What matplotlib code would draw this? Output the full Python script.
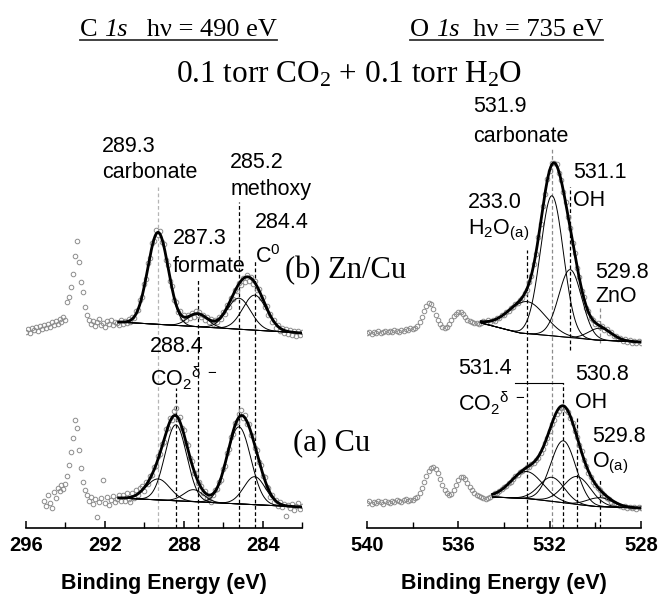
import numpy as np
import matplotlib
matplotlib.use("Agg")
import matplotlib.pyplot as plt
from matplotlib.lines import Line2D

plt.rcParams['font.family'] = ['Liberation Sans', 'DejaVu Sans']
plt.rcParams['mathtext.default'] = 'regular'

SERIF = ['Liberation Serif', 'DejaVu Serif']

# --- C 1s (hv = 490 eV), counts every 0.1 eV from the start energy downwards ---
c_b_start = 296.0   # (b) Zn/Cu
c_b_counts = [
    196, 199, 195, 200, 198, 201, 197, 202, 199, 203,
    200, 204, 201, 206, 203, 207, 204, 209, 206, 211,
    208, 226, 231, 241, 254, 272, 287, 266, 246, 236,
    221, 213, 208, 204, 207, 202, 206, 209, 203, 205,
    201, 207, 204, 208, 203, 206, 205, 203, 208, 204,
    207, 205, 209, 206, 211, 210, 217, 218, 228, 231,
    244, 249, 265, 270, 285, 287, 298, 293, 297, 286,
    284, 268, 263, 247, 242, 228, 226, 216, 217, 210,
    213, 208, 213, 210, 215, 211, 217, 213, 216, 211,
    213, 208, 211, 206, 209, 204, 208, 206, 211, 209,
    216, 214, 223, 221, 230, 229, 238, 237, 245, 243,
    250, 246, 253, 247, 251, 244, 247, 238, 239, 230,
    231, 221, 222, 213, 214, 206, 208, 200, 203, 197,
    200, 195, 199, 194, 198, 193, 197, 192, 197, 193,
    196]
c_a_start = 295.1   # (a) Cu
c_a_counts = [
    27, 22, 33, 25, 20, 36, 30, 40, 37, 43,
    39, 44, 52, 63, 76, 90, 108, 100, 78, 60,
    46, 38, 33, 27, 31, 24, 29, 11, 26, 30,
    48, 25, 31, 23, 28, 32, 26, 29, 33, 27,
    33, 27, 35, 29, 26, 35, 30, 38, 33, 40,
    42, 37, 46, 44, 52, 53, 61, 62, 72, 74,
    84, 86, 99, 100, 110, 108, 117, 120, 109, 111,
    100, 98, 85, 83, 70, 67, 55, 55, 45, 46,
    42, 35, 37, 30, 29, 26, 33, 38, 39, 46,
    48, 59, 62, 75, 79, 91, 94, 105, 106, 114,
    118, 110, 113, 104, 104, 93, 92, 80, 78, 66,
    63, 52, 51, 41, 40, 31, 33, 26, 28, 22,
    26, 21, 24, 12, 23, 20, 24, 18, 22, 25,
    19, 22]

# --- O 1s (hv = 735 eV) ---
o_b_start = 540.0
o_b_counts = [
    195, 196, 194, 196, 195, 197, 195, 196, 197, 196,
    197, 196, 198, 197, 196, 198, 197, 199, 198, 200,
    199, 200, 202, 206, 211, 217, 222, 225, 224, 219,
    213, 208, 204, 201, 200, 201, 204, 208, 212, 214,
    216, 216, 214, 211, 208, 207, 206, 205, 205, 204,
    205, 207, 206, 208, 206, 208, 207, 210, 210, 213,
    213, 216, 217, 220, 221, 224, 225, 228, 230, 235,
    238, 246, 252, 264, 274, 291, 304, 322, 334, 349,
    357, 365, 365, 364, 355, 348, 336, 326, 311, 300,
    285, 275, 260, 251, 237, 231, 220, 217, 210, 208,
    204, 205, 201, 202, 198, 199, 195, 196, 192, 192,
    189, 190, 187, 189, 186, 188, 185, 187, 185, 187,
    185]
o_a_start = 540.0
o_a_counts = [
    25, 27, 24, 26, 25, 27, 26, 24, 27, 26,
    25, 27, 26, 28, 27, 26, 28, 29, 27, 28,
    28, 30, 31, 35, 40, 46, 52, 57, 60, 61,
    59, 55, 49, 43, 38, 35, 33, 34, 38, 43,
    48, 51, 51, 49, 45, 41, 38, 35, 33, 32,
    31, 30, 29, 30, 31, 33, 35, 35, 37, 39,
    41, 42, 45, 46, 49, 52, 53, 56, 57, 59,
    61, 61, 64, 65, 68, 70, 75, 79, 85, 90,
    97, 104, 108, 114, 117, 120, 121, 118, 116, 110,
    105, 97, 91, 83, 77, 68, 62, 55, 51, 46,
    43, 40, 38, 35, 33, 30, 29, 26, 25, 24,
    23, 22, 21, 22, 20, 21, 20, 21, 19, 21,
    20]

# --- fit results: background knots, peak centres / heights / widths (sigma) ---
c_b_range = (291.3, 282.0)
c_b_bg_e, c_b_bg_h = [282.0, 291.3], [195, 206]
c_b_centres = [289.3, 287.3, 285.2, 284.4]
c_b_heights = [92, 13, 31, 35]
c_b_widths = [0.52, 0.5, 0.6, 0.6]

c_a_range = (291.3, 282.0)
c_a_bg_e, c_a_bg_h = [282.0, 291.3], [21, 30]
c_a_centres = [289.3, 288.4, 287.5, 285.2, 284.4]
c_a_heights = [21, 76, 12, 77, 28]
c_a_widths = [0.6, 0.55, 0.5, 0.6, 0.55]

o_b_range = (535.0, 528.0)
o_b_bg_e = [528.0, 530.0, 531.4, 532.0, 533.3, 534.0, 535.0]
o_b_bg_h = [186, 188, 191, 192.5, 195, 199, 205]
o_b_centres = [533.0, 531.9, 531.1, 529.8]
o_b_heights = [32, 140, 68, 12]
o_b_widths = [0.8, 0.5, 0.5, 0.5]

o_a_range = (534.5, 528.0)
o_a_bg_e = [528.0, 530.0, 531.0, 532.0, 533.0, 534.5]
o_a_bg_h = [20, 21.5, 24, 27, 29.5, 31]
o_a_centres = [533.0, 531.9, 531.4, 530.8, 529.8]
o_a_heights = [27, 24, 62, 28, 9]
o_a_widths = [0.7, 0.55, 0.55, 0.6, 0.55]


def gauss(e, c, h, s):
    return h * np.exp(-0.5 * ((e - c) / s) ** 2)


def draw_spectrum(ax, start, counts, rng, bg_e, bg_h, centres, heights, widths):
    e = start - 0.1 * np.arange(len(counts))
    ax.plot(e, counts, 'o', mfc='none', mec='#8c8c8c', ms=3.3, mew=0.7, zorder=2)
    grid = np.linspace(rng[0], rng[1], 500)
    bg = np.interp(grid, bg_e, bg_h)
    total = bg.copy()
    ax.plot(grid, bg, 'k-', lw=0.7, zorder=3)
    for c, h, s in zip(centres, heights, widths):
        comp = gauss(grid, c, h, s)
        ax.plot(grid, bg + comp, 'k-', lw=0.7, zorder=3)
        total += comp
    ax.plot(grid, total, 'k-', lw=2.0, zorder=4)


def vdash(ax, e, y0, y1, color='k'):
    ax.plot([e, e], [y0, y1], ls=(0, (3, 2)), color=color, lw=0.9, zorder=1)


def label(ax, e, h, s, **kw):
    ax.text(e, h, s, ha='left', va='center', fontsize=15.5, **kw)


def heading(fig, xc, y, parts, size):
    # serif heading made of pieces (normal / italic), centred at xc, underlined
    r = fig.canvas.get_renderer()
    texts = [fig.text(0, 0, s, family=SERIF, fontstyle=st, fontsize=size,
                      va='baseline', ha='left') for s, st in parts]
    widths = [t.get_window_extent(r).width for t in texts]
    x = xc - sum(widths) / 2
    x0 = x
    for t, w in zip(texts, widths):
        t.set_position((x / 660, 1 - y / 595))
        x += w
    fig.add_artist(Line2D([x0 / 660, x / 660], [1 - (y + 4) / 595] * 2,
                          transform=fig.transFigure, color='#333333', lw=1.3))


fig = plt.figure(figsize=(6.6, 5.95), dpi=100)
axL = fig.add_axes([26 / 660, 67 / 595, 276 / 660, 468 / 595])
axR = fig.add_axes([367 / 660, 67 / 595, 274 / 660, 468 / 595])

for ax, lim, major, minor in [(axL, (296, 282), [296, 292, 288, 284], [294, 290, 286, 282]),
                              (axR, (540, 528), [540, 536, 532, 528], [538, 534, 530])]:
    ax.set_xlim(*lim)
    ax.set_ylim(0, 468)
    for sp in ['left', 'right', 'top']:
        ax.spines[sp].set_visible(False)
    ax.spines['bottom'].set_linewidth(1.2)
    ax.set_yticks([])
    ax.set_xticks(major)
    ax.set_xticks(minor, minor=True)
    ax.set_xticklabels([str(m) for m in major], fontsize=14.5, fontweight='bold')
    ax.tick_params(axis='x', which='major', direction='in', length=5, width=1.1, pad=5.5)
    ax.tick_params(axis='x', which='minor', direction='in', length=4, width=1.0)
    ax.set_xlabel('Binding Energy (eV)', fontsize=15.5, fontweight='bold', labelpad=13)
    ax.patch.set_visible(False)

# C 1s panel
draw_spectrum(axL, c_b_start, c_b_counts, c_b_range, c_b_bg_e, c_b_bg_h,
              c_b_centres, c_b_heights, c_b_widths)
draw_spectrum(axL, c_a_start, c_a_counts, c_a_range, c_a_bg_e, c_a_bg_h,
              c_a_centres, c_a_heights, c_a_widths)
vdash(axL, 289.3, 0, 341, color='#b5b5b5')
vdash(axL, 288.4, 0, 140)
vdash(axL, 287.3, 0, 248)
vdash(axL, 285.2, 0, 326)
vdash(axL, 284.4, 0, 268)
label(axL, 292.14, 381, '289.3')
label(axL, 292.14, 355, 'carbonate')
label(axL, 285.64, 366, '285.2')
label(axL, 285.64, 338, 'methoxy')
label(axL, 284.38, 305, '284.4')
label(axL, 284.38, 271, 'C$^{0}$')
label(axL, 288.54, 290, '287.3')
label(axL, 288.54, 261, 'formate')
label(axL, 289.71, 181, '288.4')
label(axL, 289.71, 150, 'CO$_2$$^{δ\\ -}$')

# O 1s panel
draw_spectrum(axR, o_b_start, o_b_counts, o_b_range, o_b_bg_e, o_b_bg_h,
              o_b_centres, o_b_heights, o_b_widths)
draw_spectrum(axR, o_a_start, o_a_counts, o_a_range, o_a_bg_e, o_a_bg_h,
              o_a_centres, o_a_heights, o_a_widths)
vdash(axR, 533.0, 0, 278)
vdash(axR, 531.9, 0, 380, color='#8c8c8c')
vdash(axR, 531.1, 178, 341)
vdash(axR, 529.8, 185, 221, color='#8c8c8c')
vdash(axR, 531.4, 0, 145)
vdash(axR, 530.8, 0, 110)
vdash(axR, 529.8, 0, 48)
axR.plot([533.52, 531.4], [145, 145], 'k-', lw=0.8)
label(axR, 535.36, 421, '531.9')
label(axR, 535.36, 391, 'carbonate')
label(axR, 530.98, 355, '531.1')
label(axR, 530.98, 328, 'OH')
label(axR, 535.58, 325, '233.0')
label(axR, 535.58, 298, 'H$_2$O$_{(a)}$')
label(axR, 530.01, 256, '529.8')
label(axR, 530.01, 231, 'ZnO')
label(axR, 536.01, 160, '531.4')
label(axR, 536.01, 125, 'CO$_2$$^{δ\\ -}$')
label(axR, 530.89, 153, '530.8')
label(axR, 530.89, 125, 'OH')
label(axR, 530.14, 91, '529.8')
label(axR, 530.14, 65, 'O$_{(a)}$')

# headings
heading(fig, 178.5, 36, [('C ', 'normal'), ('1s', 'italic'), ('   hν = 490 eV', 'normal')], 19)
heading(fig, 506.5, 36, [('O ', 'normal'), ('1s', 'italic'), ('  hν = 735 eV', 'normal')], 19)
fig.text(349 / 660, 1 - 75 / 595, '0.1 torr CO$_2$ + 0.1 torr H$_2$O', family=SERIF,
         fontsize=22.5, ha='center', va='center')
fig.text(285 / 660, 1 - 271 / 595, '(b) Zn/Cu', family=SERIF, fontsize=22, ha='left', va='center')
fig.text(293 / 660, 1 - 443 / 595, '(a) Cu', family=SERIF, fontsize=22, ha='left', va='center')

fig.savefig('out.png', dpi=100)
